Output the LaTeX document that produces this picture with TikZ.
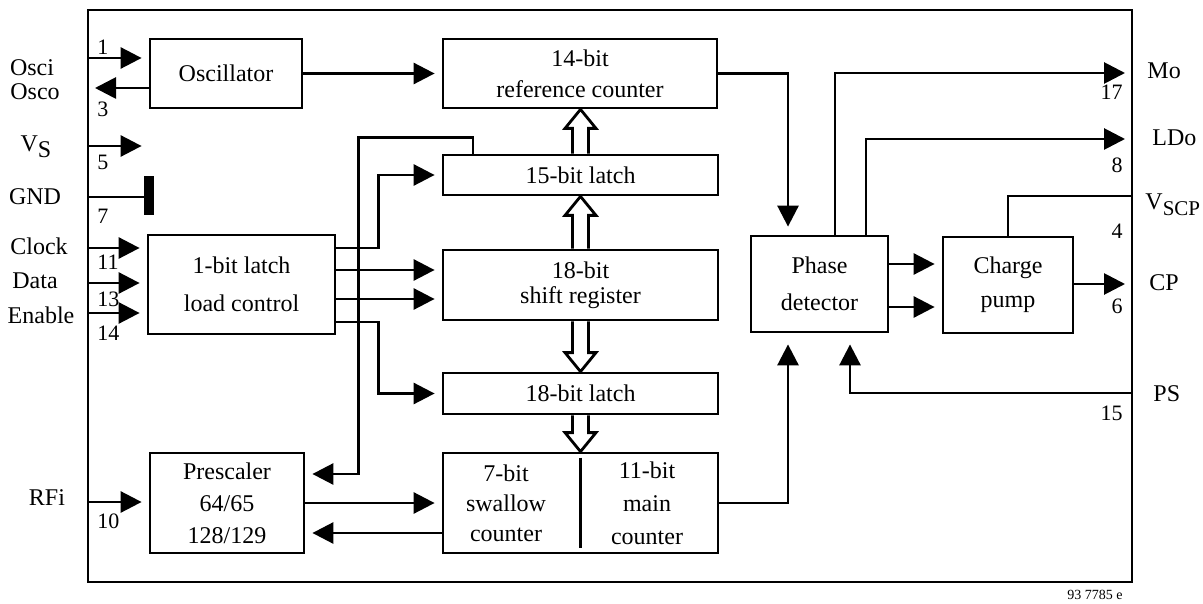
\documentclass[tikz,border=0pt]{standalone}
\usepackage{fontspec}
\setmainfont{Liberation Serif}
\usetikzlibrary{arrows.meta,calc}

\tikzset{
  blk/.style={draw, line width=1.4pt, inner sep=0pt, align=center,
    font=\fontsize{12}{13}\selectfont},
  wh/.style 2 args={minimum width=#1*0.5pt, minimum height=#2*0.5pt},
  wire/.style={line width=1.4pt},
  pin/.style={wire, -{Triangle[length=10.5pt,width=10.5pt]}, shorten >=3.5pt},
  lbl/.style={font=\fontsize{12}{13}\selectfont, inner sep=0pt, anchor=base},
  num/.style={font=\fontsize{11}{12}\selectfont, inner sep=0pt, anchor=base west},
}

% hollow bus arrow: from, to, head offset
\newcommand{\busarrow}[3]{%
  \draw[wire] let \p1=(#1), \p2=(#2) in
    (\x1-4pt,\y1) -- (\x1-4pt,\y2#3) -- (\x1-7.75pt,\y2#3) -- (\x1,\y2)
    -- (\x1+7.75pt,\y2#3) -- (\x1+4pt,\y2#3) -- (\x1+4pt,\y1);
}

\begin{document}
\begin{tikzpicture}[x=0.5pt, y=-0.5pt]
    \useasboundingbox (0,0) rectangle (1203,604);

    % 1. FRAME AND BLOCKS
    \node[blk, wh={1044}{572}] (chip) at (610,296) {};
    \node[blk, wh={152}{69}] (osc) at (226,73.5) {Oscillator};
    \node[blk, wh={274}{69}] (ref) at (580,73.5) {14-bit\\[2.5pt]reference counter};
    \node[blk, wh={275}{40}] (l15) at (580.5,175) {15-bit latch};
    \node[blk, wh={275}{70}] (sr) at (580.5,285) {18-bit\\[-0.5pt]shift register};
    \node[blk, wh={275}{41}] (l18) at (580.5,393.5) {18-bit latch};
    \node[blk, wh={275}{100}] (cnt) at (580.5,503) {};
    \node[blk, draw=none] (swc) at (506,503) {7-bit\\[2pt]swallow\\[2pt]counter};
    \node[blk, draw=none] (mnc) at (647,503) {11-bit\\[3.5pt]main\\[3.5pt]counter};
    \draw[wire] ([yshift=-3pt]cnt.north) -- ([yshift=3pt]cnt.south);
    \node[blk, wh={187}{99}] (lc) at (241.5,284.5) {1-bit latch\\[6pt]load control};
    \node[blk, wh={154}{100}] (pre) at (227,503) {Prescaler\\[3pt]64/65\\[3pt]128/129};
    \node[blk, wh={137}{96}] (pd) at (819.5,284) {Phase\\[5.5pt]detector};
    \node[blk, wh={130}{96}] (cp) at (1008,285) {Charge\\[4pt]pump};
    \node[fill, inner sep=0pt, minimum width=5pt, minimum height=19.5pt] (gnd) at (149,195.5) {};

    % 2. LEFT PINS
    \foreach \y/\n/\tgt in {58/1/osc, 248/11/lc, 283/13/lc, 313/14/lc, 502/10/pre} {
        \coordinate (in\n) at (88,\y);
        \draw[pin] (in\n) -- (in\n -| \tgt.west);
    }
    \coordinate (in3) at (88,88);
    \draw[pin] (in3 -| osc.west) -- (in3);
    \coordinate (in5) at (88,146);
    \draw[pin] (in5) -- (in5 -| osc.west);
    \coordinate (in7) at (88,197);
    \draw[wire] (in7) -- (in7 -| gnd.west);

    \foreach \n/\y in {1/55, 3/117, 5/170, 7/223, 11/270, 13/306, 14/340, 10/528} {
        \node[num] (n\n) at (97,\y) {\n};
    }
    \foreach \nm/\x/\y/\t in {osci/32/76/Osci, osco/35/100/Osco,
        vs/36/152/{V\raisebox{-3pt}{S}}, gndl/35/205/GND, clk/39/254/Clock,
        dat/35/288/Data, ena/41/323/Enable, rfi/47/505/RFi} {
        \node[lbl] (\nm) at (\x,\y) {\t};
    }

    % 3. RIGHT PINS
    \coordinate (out17) at (1132,73);
    \coordinate (out8) at (1132,139);
    \coordinate (out4) at (1132,196);
    \coordinate (out6) at (1132,284);
    \coordinate (out15) at (1132,393);
    \draw[pin] ([xshift=7.75pt]pd.north) |- (out17);
    \draw[pin] ([xshift=23.25pt]pd.north) |- (out8);
    \draw[wire] (cp.north) |- (out4);
    \draw[pin] (cp.east |- out6) -- (out6);
    \draw[pin, shorten >=5.5pt] (out15) -| ([xshift=15.25pt]pd.south);

    \foreach \n/\y in {17/100, 8/173, 4/238, 6/313, 15/420} {
        \node[num, anchor=base east] (m\n) at (1123,\y) {\n};
    }
    \foreach \nm/\x/\y/\t in {mo/1147/79/Mo, ldo/1152/146/LDo,
        vscp/1145/210/{V\raisebox{-3pt}{\fontsize{10.5}{12}\selectfont SCP}},
        cpl/1149/290/CP, ps/1153/401/PS} {
        \node[lbl, anchor=base west] (\nm) at (\x,\y) {\t};
    }
    \node[font=\fontsize{7}{8}\selectfont, inner sep=0pt, anchor=base east] (code) at (1123,599) {93 7785 e};

    % 4. INTERNAL SIGNALS
    \draw[pin] (osc.east) -- (ref.west);
    \draw[pin, shorten >=4pt] (ref.east) -| ([xshift=-15.75pt]pd.north);
    \draw[pin, shorten >=5.5pt] (cnt.east) -| ([xshift=-15.75pt]pd.south);
    \coordinate (pdA) at ([yshift=10pt]pd.east);
    \coordinate (pdB) at ([yshift=-11.5pt]pd.east);
    \draw[pin] (pdA) -- (pdA -| cp.west);
    \draw[pin] (pdB) -- (pdB -| cp.west);

    \path (lc.east) +(0,-36.5) coordinate (lq1) +(0,-14.5) coordinate (lq2)
        +(0,14.5) coordinate (lq3) +(0,37.5) coordinate (lq4);
    \draw[pin] (lq1) -| ($(l15.west)+(-63,0)$) -- (l15.west);
    \draw[pin] (lq2) -- (lq2 -| sr.west);
    \draw[pin] (lq3) -- (lq3 -| sr.west);
    \draw[pin] (lq4) -| ($(l18.west)+(-63,0)$) -- (l18.west);
    \draw[pin] ($(l15.north)+(-107.5,0)$) -- ++(0,-16) -| ($(pre.east)+(53,-29)$) -- ($(pre.east)+(0,-29)$);

    \draw[pin] (pre.east) -- (cnt.west);
    \draw[pin] ($(cnt.west)+(0,30)$) -- ($(pre.east)+(0,30)$);

    % 5. BUS ARROWS
    \busarrow{l15.north}{ref.south}{-9.5pt}
    \busarrow{sr.north}{l15.south}{-9.5pt}
    \busarrow{sr.south}{l18.north}{+9.5pt}
    \busarrow{l18.south}{cnt.north}{+9.5pt}

\end{tikzpicture}
\end{document}
